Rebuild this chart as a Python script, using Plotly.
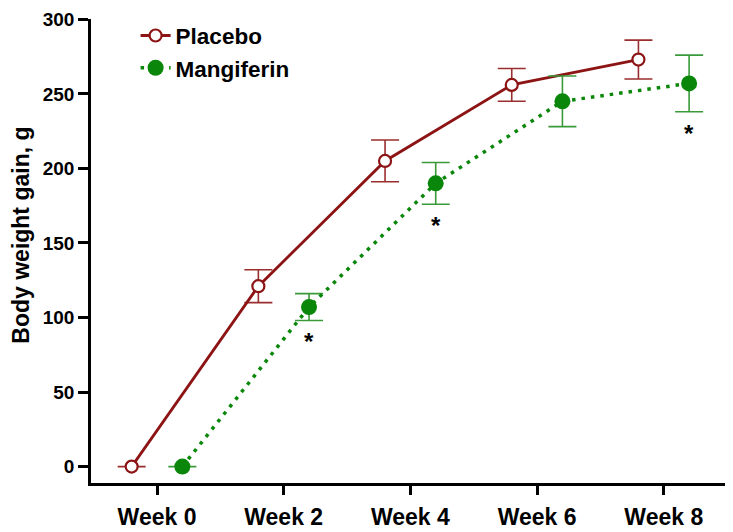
import plotly.graph_objects as go

weeks = ["Week 0", "Week 2", "Week 4", "Week 6", "Week 8"]
placebo_mean = [0, 121, 205, 256, 273]
placebo_err = [0, 11, 14, 11, 13]
mangiferin_mean = [0, 107, 190, 245, 257]
mangiferin_err = [0, 9, 14, 17, 19]
significance = ["", "*", "*", "", "*"]
y_ticks = [0, 50, 100, 150, 200, 250, 300]

idx = list(range(len(weeks)))
off = 0.2
xp = [i - off for i in idx]
xm = [i + off for i in idx]

FONT = "Liberation Sans, Arial, sans-serif"
RED = "#8c1414"
RED_ERR = "#9a2e2e"
GREEN = "#0a870a"
GREEN_ERR = "#3a9a3a"

fig = go.Figure()
fig.add_trace(go.Scatter(
    x=xp, y=placebo_mean, name="Placebo", mode="lines+markers",
    line=dict(color=RED, width=2.8),
    marker=dict(symbol="circle", size=12, color="white", line=dict(color=RED, width=2.2)),
    error_y=dict(type="data", array=placebo_err, visible=True, color=RED_ERR, thickness=1.6, width=14),
))
fig.add_trace(go.Scatter(
    x=xm, y=mangiferin_mean, name="Mangiferin", mode="lines+markers",
    line=dict(color=GREEN, width=3.5, dash="3.5px,6px"),
    marker=dict(symbol="circle", size=16, color=GREEN),
    error_y=dict(type="data", array=mangiferin_err, visible=True, color=GREEN_ERR, thickness=1.6, width=14),
))

for i, s in enumerate(significance):
    if s:
        fig.add_annotation(x=xm[i], y=mangiferin_mean[i] - mangiferin_err[i], text=s,
                           showarrow=False, yanchor="top", yshift=-6,
                           font=dict(family=FONT, size=24, color="black", weight="bold"))

fig.add_annotation(xref="paper", yref="paper", x=-0.11, y=0.535, text="Body weight gain, g",
                   textangle=-90, showarrow=False, xanchor="center", yanchor="middle",
                   borderpad=0,
                   font=dict(family=FONT, size=23, color="black", weight="bold"))

fig.update_layout(
    width=733, height=532,
    margin=dict(l=83, r=13, t=6, b=57),
    paper_bgcolor="white", plot_bgcolor="white",
    font=dict(family=FONT, size=19, color="black", weight="bold"),
    showlegend=True,
    legend=dict(x=0.07, y=1.01, xanchor="left", yanchor="top",
                font=dict(family=FONT, size=22.5, color="black", weight="bold"),
                bgcolor="rgba(0,0,0,0)", tracegroupgap=0, itemwidth=30),
)
fig.update_xaxes(
    range=[-0.521, 4.507], tickmode="array", tickvals=idx, ticktext=weeks,
    showline=True, linecolor="black", linewidth=2.5, ticks="outside", ticklen=9,
    tickwidth=2.5, tickcolor="black", showgrid=False, zeroline=False,
    ticklabelstandoff=3,
    tickfont=dict(family=FONT, size=23, color="black", weight="bold"), automargin=False,
)
fig.update_yaxes(
    range=[-11, 300.2], tickmode="array", tickvals=y_ticks,
    showline=True, linecolor="black", linewidth=2.5, ticks="outside", ticklen=10,
    tickwidth=2.5, tickcolor="black", showgrid=False, zeroline=False,
    tickfont=dict(family=FONT, size=19, color="black", weight="bold"),
    automargin=False,
)
fig.write_html("out.html")
